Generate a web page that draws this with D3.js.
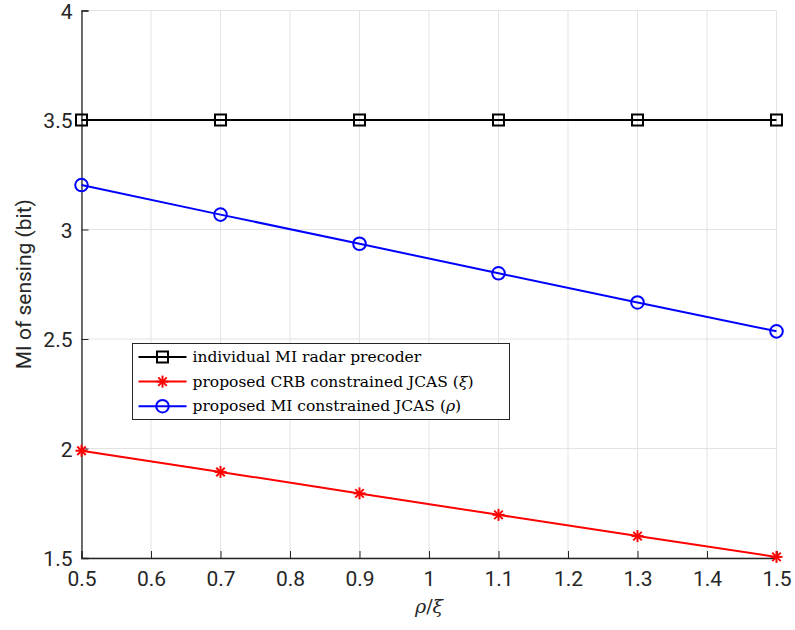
<!DOCTYPE html>
<html>
<head>
<meta charset="utf-8">
<script src="https://cdn.jsdelivr.net/npm/d3@7"></script>
<style>
  body { margin: 0; background: #fff; }
  svg { display: block; }
</style>
</head>
<body>
<svg width="795" height="630"></svg>
<script>
// Data
var ratios = [0.5, 0.7, 0.9, 1.1, 1.3, 1.5];
var individualMI = [3.5, 3.5, 3.5, 3.5, 3.5, 3.5];
var crbJCAS = [1.99, 1.893, 1.795, 1.697, 1.600, 1.505];
var miJCAS = [3.203, 3.068, 2.935, 2.800, 2.667, 2.535];
var xTicks = [0.5, 0.6, 0.7, 0.8, 0.9, 1, 1.1, 1.2, 1.3, 1.4, 1.5];
var yTicks = [1.5, 2, 2.5, 3, 3.5, 4];
var legendNames = ['individual MI radar precoder', 'proposed CRB constrained JCAS (', 'proposed MI constrained JCAS ('];
var legendSymbols = ['', '\u03BE', '\u03C1'];

var series = [
  {name: legendNames[0], sym: legendSymbols[0], values: individualMI, color: '#000000', marker: 'square'},
  {name: legendNames[1], sym: legendSymbols[1], values: crbJCAS, color: '#ff0000', marker: 'star'},
  {name: legendNames[2], sym: legendSymbols[2], values: miJCAS, color: '#0000ff', marker: 'circle'}
];

var margin = {top: 10.5, right: 18.5, bottom: 72, left: 81.5};
var width = 795 - margin.left - margin.right;
var height = 630 - margin.top - margin.bottom;

var x = d3.scaleLinear().domain([0.5, 1.5]).range([0, width]);
var y = d3.scaleLinear().domain([1.5, 4]).range([height, 0]);
var line = d3.line().x((d, i) => x(ratios[i])).y(d => y(d));

var svg = d3.select('svg');
var chart = svg.append('g')
  .attr('transform', 'translate(' + margin.left + ',' + margin.top + ')');

var axisFont = 'Roboto, "Liberation Sans", Arial, sans-serif';
var axisColor = '#262626';

// Grid
chart.append('g').selectAll('line')
  .data(xTicks).enter().append('line')
  .attr('x1', d => x(d)).attr('x2', d => x(d))
  .attr('y1', 0).attr('y2', height)
  .attr('stroke', '#e3e3e3').attr('stroke-width', 1);
chart.append('g').selectAll('line')
  .data(yTicks).enter().append('line')
  .attr('x1', 0).attr('x2', width)
  .attr('y1', d => y(d)).attr('y2', d => y(d))
  .attr('stroke', '#e3e3e3').attr('stroke-width', 1);

// Axes (inward ticks, no box)
var xAxis = d3.axisBottom(x).tickValues(xTicks).tickSize(-7).tickPadding(15)
  .tickFormat(d => d3.format('~g')(d));
var yAxis = d3.axisLeft(y).tickValues(yTicks).tickSize(-7).tickPadding(9)
  .tickFormat(d => d3.format('~g')(d));

var gx = chart.append('g').attr('transform', 'translate(0,' + height + ')').call(xAxis);
var gy = chart.append('g').call(yAxis);
[gx, gy].forEach(g => {
  g.select('.domain').attr('stroke', axisColor).attr('stroke-width', 1.3);
  g.selectAll('.tick line').attr('stroke', axisColor).attr('stroke-width', 1);
  g.selectAll('.tick text').attr('fill', axisColor)
    .style('font-family', axisFont).style('font-size', '21px');
});
gx.selectAll('.tick text').attr('dy', '0.62em');
gy.selectAll('.tick text').attr('dy', '0.36em');

// Axis titles
chart.append('text')
  .attr('x', width / 2).attr('y', height + 55)
  .attr('text-anchor', 'middle')
  .attr('fill', axisColor)
  .style('font-family', '"DejaVu Serif", serif').style('font-size', '19px')
  .call(t => {
    t.append('tspan').style('font-style', 'italic').text('\u03C1');
    t.append('tspan').text('/');
    t.append('tspan').style('font-style', 'italic').text('\u03BE');
  });

chart.append('text')
  .attr('transform', 'translate(' + (-51) + ',' + (height / 2) + ') rotate(-90)')
  .attr('text-anchor', 'middle')
  .attr('fill', axisColor)
  .style('font-family', axisFont).style('font-size', '21px')
  .text('MI of sensing (bit)');

// Marker drawing
function drawMarker(g, type, color, cx, cy) {
  if (type === 'square') {
    g.append('rect')
      .attr('x', cx - 5.5).attr('y', cy - 5.5)
      .attr('width', 11).attr('height', 11)
      .attr('fill', 'none').attr('stroke', color).attr('stroke-width', 2);
  } else if (type === 'circle') {
    g.append('circle')
      .attr('cx', cx).attr('cy', cy).attr('r', 6.3)
      .attr('fill', 'none').attr('stroke', color).attr('stroke-width', 2);
  } else {
    var r = 6;
    [0, 45, 90, 135].forEach(a => {
      var rad = a * Math.PI / 180;
      g.append('line')
        .attr('x1', cx - r * Math.cos(rad)).attr('y1', cy - r * Math.sin(rad))
        .attr('x2', cx + r * Math.cos(rad)).attr('y2', cy + r * Math.sin(rad))
        .attr('stroke', color).attr('stroke-width', 2);
    });
  }
}

// Lines and markers
series.forEach(s => {
  chart.append('path')
    .datum(s.values)
    .attr('fill', 'none')
    .attr('stroke', s.color)
    .attr('stroke-width', 2)
    .attr('d', line);
  var mg = chart.append('g');
  s.values.forEach((v, i) => drawMarker(mg, s.marker, s.color, x(ratios[i]), y(v)));
});

// Legend
var legX = 132.5 - margin.left, legY = 343.5 - margin.top;
var legend = chart.append('g').attr('transform', 'translate(' + legX + ',' + legY + ')');
legend.append('rect')
  .attr('width', 377).attr('height', 76)
  .attr('fill', '#fff').attr('stroke', '#262626').attr('stroke-width', 1);
series.forEach((s, i) => {
  var ry = 13.5 + i * 24.6;
  legend.append('line')
    .attr('x1', 6).attr('x2', 54).attr('y1', ry).attr('y2', ry)
    .attr('stroke', s.color).attr('stroke-width', 2);
  drawMarker(legend, s.marker, s.color, 30, ry);
  var t = legend.append('text')
    .attr('x', 60).attr('y', ry).attr('dy', '0.33em')
    .attr('fill', '#000')
    .style('font-family', '"DejaVu Serif", serif').style('font-size', '15.5px');
  t.append('tspan').text(s.name);
  if (s.sym) {
    t.append('tspan').style('font-style', 'italic').text(s.sym);
    t.append('tspan').text(')');
  }
});
</script>
</body>
</html>
